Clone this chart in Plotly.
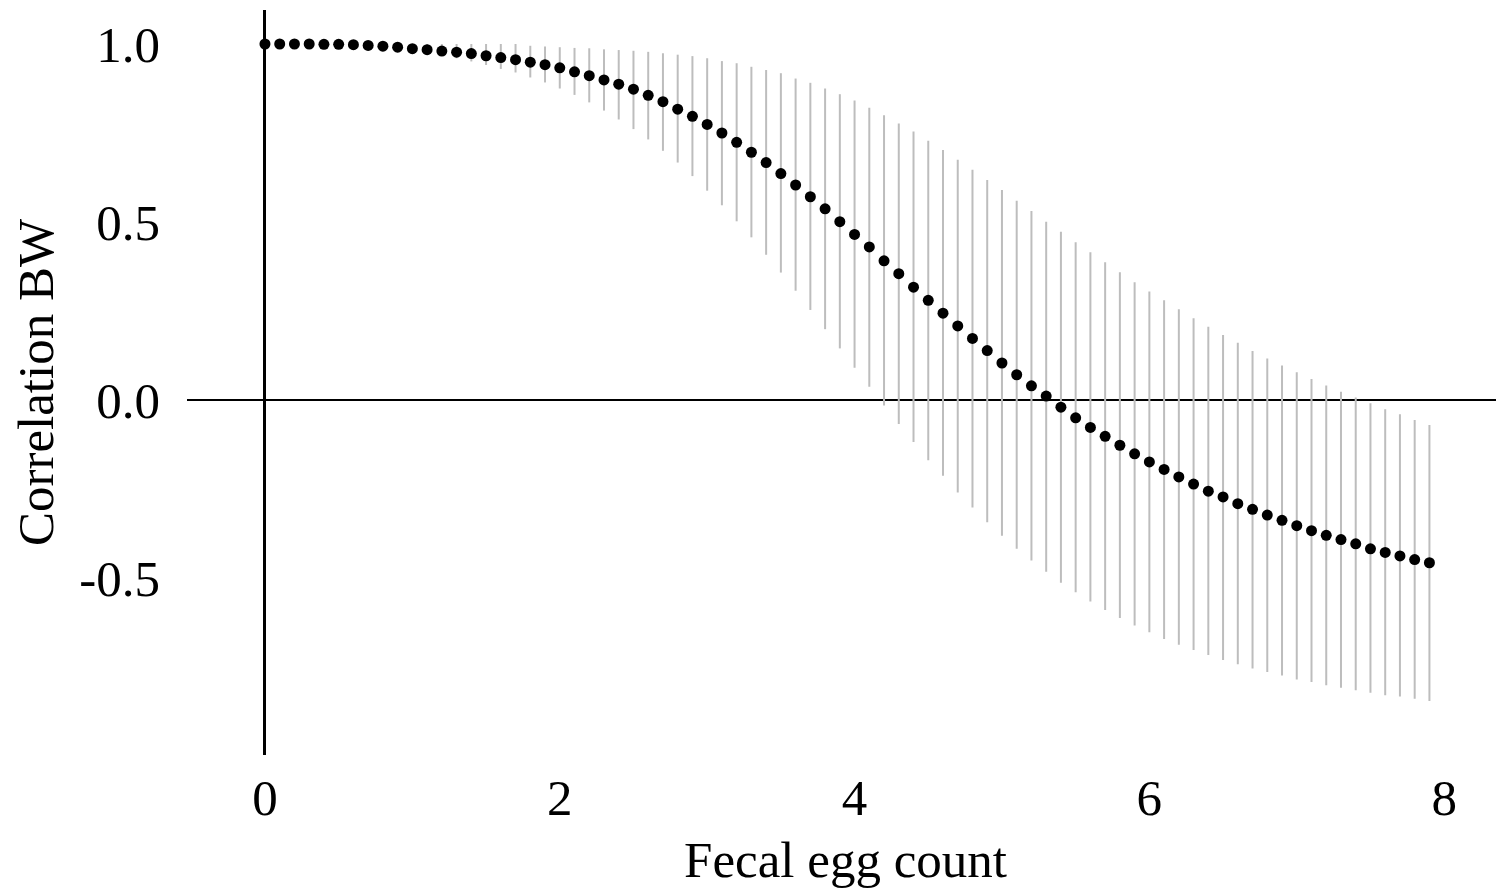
import plotly.graph_objects as go

# Fecal egg count grid (x positions)
fec = [0.0, 0.1, 0.2, 0.3, 0.4, 0.5, 0.6, 0.7, 0.8, 0.9,
       1.0, 1.1, 1.2, 1.3, 1.4, 1.5, 1.6, 1.7, 1.8, 1.9,
       2.0, 2.1, 2.2, 2.3, 2.4, 2.5, 2.6, 2.7, 2.8, 2.9,
       3.0, 3.1, 3.2, 3.3, 3.4, 3.5, 3.6, 3.7, 3.8, 3.9,
       4.0, 4.1, 4.2, 4.3, 4.4, 4.5, 4.6, 4.7, 4.8, 4.9,
       5.0, 5.1, 5.2, 5.3, 5.4, 5.5, 5.6, 5.7, 5.8, 5.9,
       6.0, 6.1, 6.2, 6.3, 6.4, 6.5, 6.6, 6.7, 6.8, 6.9,
       7.0, 7.1, 7.2, 7.3, 7.4, 7.5, 7.6, 7.7, 7.8, 7.9]

# Correlation estimates
corr = [1.000, 1.000, 1.000, 1.000, 0.999, 0.999, 0.998, 0.996, 0.994, 0.991,
        0.987, 0.984, 0.980, 0.977, 0.973, 0.967, 0.962, 0.956, 0.949, 0.942,
        0.933, 0.922, 0.911, 0.899, 0.887, 0.873, 0.856, 0.838, 0.817, 0.797,
        0.774, 0.750, 0.724, 0.696, 0.667, 0.636, 0.604, 0.571, 0.537, 0.501,
        0.465, 0.430, 0.391, 0.355, 0.317, 0.280, 0.244, 0.208, 0.173, 0.139,
        0.104, 0.071, 0.040, 0.011, -0.020, -0.050, -0.077, -0.102, -0.127, -0.151,
        -0.174, -0.195, -0.216, -0.236, -0.256, -0.272, -0.291, -0.307, -0.323, -0.338,
        -0.353, -0.367, -0.380, -0.392, -0.404, -0.418, -0.428, -0.438, -0.448, -0.457]

# Upper interval bound
upper = [1.000, 1.000, 1.000, 1.000, 1.000, 1.000, 1.000, 1.000, 1.000, 1.000,
         1.000, 1.000, 1.000, 1.000, 1.000, 1.000, 1.000, 1.000, 0.995, 0.993,
         0.991, 0.989, 0.988, 0.985, 0.983, 0.981, 0.978, 0.974, 0.970, 0.966,
         0.960, 0.952, 0.946, 0.936, 0.927, 0.918, 0.903, 0.891, 0.875, 0.859,
         0.841, 0.821, 0.800, 0.777, 0.754, 0.728, 0.702, 0.675, 0.647, 0.618,
         0.590, 0.560, 0.531, 0.501, 0.473, 0.443, 0.415, 0.387, 0.359, 0.331,
         0.305, 0.280, 0.255, 0.230, 0.206, 0.183, 0.161, 0.138, 0.117, 0.097,
         0.078, 0.059, 0.041, 0.023, 0.007, -0.009, -0.026, -0.040, -0.056, -0.070]

# Lower interval bound
lower = [1.000, 1.000, 0.999, 0.998, 0.997, 0.995, 0.993, 0.990, 0.987, 0.983,
         0.979, 0.974, 0.969, 0.960, 0.951, 0.941, 0.930, 0.920, 0.906, 0.892,
         0.875, 0.857, 0.836, 0.813, 0.788, 0.761, 0.732, 0.700, 0.667, 0.629,
         0.588, 0.547, 0.502, 0.457, 0.408, 0.358, 0.307, 0.253, 0.199, 0.145,
         0.091, 0.037, -0.015, -0.067, -0.118, -0.169, -0.213, -0.260, -0.302, -0.343,
         -0.381, -0.418, -0.451, -0.482, -0.513, -0.540, -0.566, -0.590, -0.612, -0.633,
         -0.652, -0.671, -0.687, -0.702, -0.716, -0.730, -0.742, -0.754, -0.764, -0.774,
         -0.785, -0.792, -0.801, -0.808, -0.815, -0.822, -0.829, -0.833, -0.839, -0.845]

x_ticks = [0, 2, 4, 6, 8]
x_ticktext = ["0", "2", "4", "6", "8"]
y_ticks = [-0.5, 0.0, 0.5, 1.0]
y_ticktext = ["-0.5", "0.0", "0.5", "1.0"]

err_plus = [max(u - c, 0) for u, c in zip(upper, corr)]
err_minus = [max(c - l, 0) for l, c in zip(lower, corr)]

fig = go.Figure()
fig.add_trace(go.Scatter(
    x=fec, y=corr, mode="markers",
    marker=dict(color="black", size=11),
    error_y=dict(type="data", symmetric=False, array=err_plus, arrayminus=err_minus,
                 color="#bdbdbd", thickness=2, width=0),
    showlegend=False,
))

font = dict(family="Liberation Serif, Times New Roman, serif", size=51, color="black")

fig.update_layout(
    width=1496, height=880,
    margin=dict(l=179, r=0, t=2, b=133),
    paper_bgcolor="white", plot_bgcolor="white",
    font=font,
    xaxis=dict(range=[-0.529, 8.406], tickvals=x_ticks, ticktext=x_ticktext,
               showgrid=False, showline=False, ticks="",
               zeroline=True, zerolinecolor="black", zerolinewidth=3,
               ticklabelstandoff=8,
               title=dict(text="Fecal egg count", font=font, standoff=22)),
    yaxis=dict(range=[-0.997, 1.0955], tickvals=y_ticks, ticktext=y_ticktext,
               showgrid=False, showline=False, ticks="",
               zeroline=True, zerolinecolor="black", zerolinewidth=2,
               ticklabelstandoff=26,
               title=dict(text="Correlation BW", font=font, standoff=14)),
)

fig.write_html("out.html")
